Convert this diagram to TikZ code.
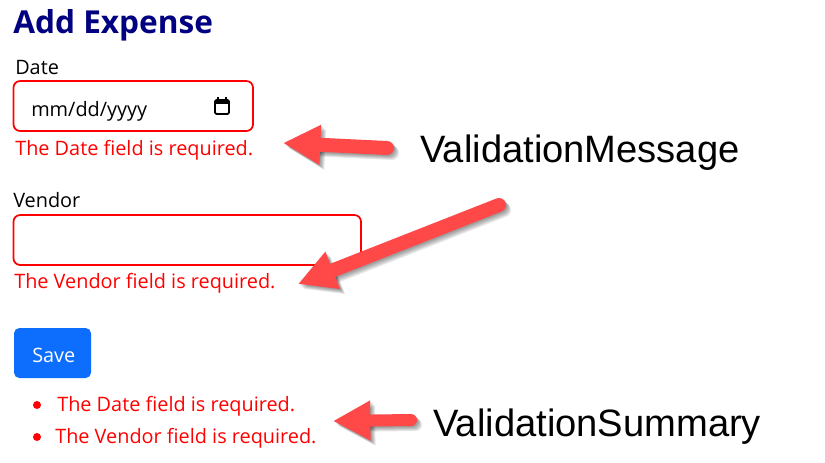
\documentclass[tikz,border=0pt]{standalone}
\usepackage{fontspec}
\setmainfont{Open Sans}
\newfontfamily\labelfont{Liberation Sans}
\usetikzlibrary{arrows.meta}
\definecolor{headblue}{HTML}{000080}
\definecolor{savebtn}{HTML}{0D6EFD}
\definecolor{arrowred}{HTML}{FF4848}
\tikzset{
  txt/.style={anchor=base west,inner sep=0pt,font=\fontsize{14.9}{18}\selectfont},
  err/.style={txt,text=red},
  callout/.style={anchor=base west,inner sep=0pt,font=\labelfont\fontsize{28.6}{34}\selectfont},
  inputbox/.style={draw=red,line width=1.3pt,rounded corners=5pt},
  bigarrow/.style={line width=#1*0.75pt,line cap=round,arrowred,-{Triangle[length=28pt,width=28pt]}},
}
\begin{document}
\begin{tikzpicture}[x=0.75pt,y=-0.75pt]
  \useasboundingbox (0,0) rectangle (825,462);
  \fill[white] (0,0) rectangle (825,462);

  %form
  \node[anchor=base west,inner sep=0pt,text=headblue,font=\fontsize{23.7}{28}\selectfont\bfseries] (title) at (13,33) {Add Expense};
  \node[txt] (datelabel) at (15,74) {Date};
  \draw[inputbox] (13.5,81) rectangle (253,131);
  \node[txt] (datevalue) at (31,116) {mm/dd/yyyy};
  \node[err] (dateerror) at (15,155) {The Date field is required.};
  \node[txt] (vendorlabel) at (13,207) {Vendor};
  \draw[inputbox] (13.5,215) rectangle (361,265);
  \node[err] (vendorerror) at (14,288) {The Vendor field is required.};
  \node[fill=savebtn,rounded corners=4pt,minimum width=57.75pt,minimum height=37.5pt,inner sep=0pt] (savebtn) at (52.5,353) {};
  \node[txt,text=white] (savetext) at (32,362) {Save};

  %calendar icon
  \draw[line width=1.4pt,rounded corners=1pt] (215,100) rectangle (229,114);
  \fill (215,100) rectangle (229,104);
  \draw[line width=1.2pt] (218,97) -- (218,100);
  \draw[line width=1.2pt] (226,97) -- (226,100);

  %summary list
  \foreach \y/\n in {405/dot1,437/dot2} {
    \node[circle,fill=red,inner sep=0pt,minimum size=6pt] (\n) at (37,\y) {};
  }
  \node[err] (sumdate) at (57,411) {The Date field is required.};
  \node[err] (sumvendor) at (55,443) {The Vendor field is required.};

  %callouts
  \node[callout] (msglabel) at (420,162) {ValidationMessage};
  \node[callout] (sumlabel) at (433,436) {ValidationSummary};

  \coordinate (tail1) at (387,148);
  \coordinate (tip1) at (283,143);
  \coordinate (tail2) at (499,205);
  \coordinate (tip2) at (298,284);
  \coordinate (tail3) at (411,420);
  \coordinate (tip3) at (333,421);

  %arrows with a soft shadow
  \foreach \d in {1,2,3,4,5} {
    \draw[bigarrow=14,black,opacity=0.09] ([shift={(\d,\d)}]tail1) -- ([shift={(\d,\d)}]tip1);
    \draw[bigarrow=14,black,opacity=0.09] ([shift={(\d,\d)}]tail2) -- ([shift={(\d,\d)}]tip2);
    \draw[bigarrow=12,black,opacity=0.09] ([shift={(\d,\d)}]tail3) -- ([shift={(\d,\d)}]tip3);
  }
  \draw[bigarrow=14] (tail1) -- (tip1);
  \draw[bigarrow=14] (tail2) -- (tip2);
  \draw[bigarrow=12] (tail3) -- (tip3);
\end{tikzpicture}
\end{document}
